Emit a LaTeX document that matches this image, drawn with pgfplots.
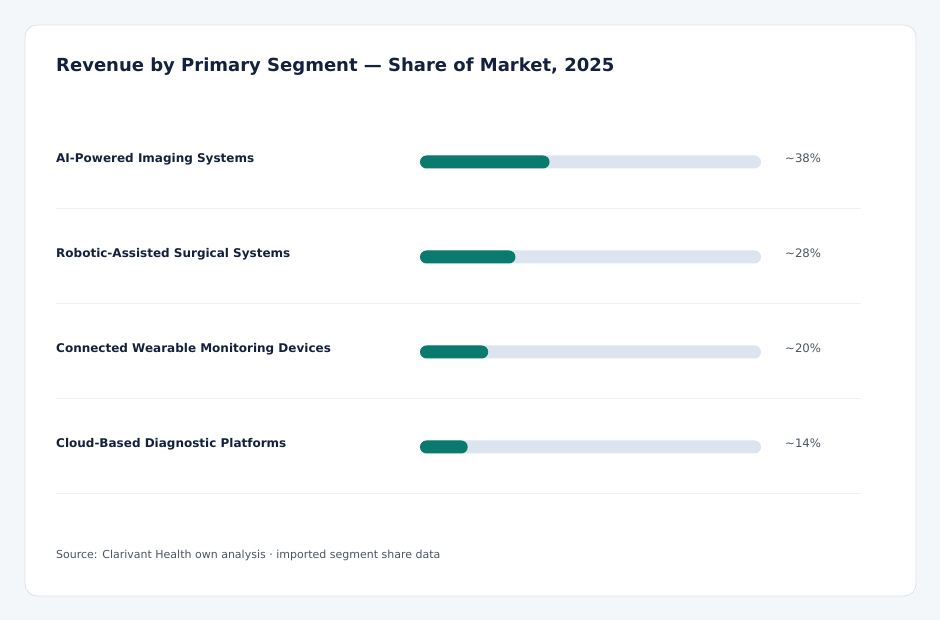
\documentclass[border=0pt]{standalone}
\usepackage{pgfplots}
\pgfplotsset{compat=1.18}
\usepackage{fontspec}
\setmainfont{DejaVu Sans}
\definecolor{pagebg}{HTML}{F4F7FA}
\definecolor{cardborder}{HTML}{DDE2E8}
\definecolor{titlec}{HTML}{13213D}
\definecolor{labelc}{HTML}{14213D}
\definecolor{valc}{HTML}{4B5563}
\definecolor{sepc}{HTML}{EEF1F5}
\definecolor{trackc}{HTML}{DBE4EF}
\definecolor{fillc}{HTML}{0B7A6E}
\begin{document}
\begin{tikzpicture}[x=1pt,y=1pt]
\fill[pagebg] (0,0) rectangle (940,620);
\draw[cardborder, fill=white, line width=0.8pt, rounded corners=12pt] (25,595) rectangle (916,24);
\node[anchor=base west, inner sep=0pt, font=\bfseries\fontsize{18}{20}\selectfont, text=titlec] at (56,548) {Revenue by Primary Segment — Share of Market, 2025};
\foreach \yy in {412,317,222,127} {\draw[sepc, line width=0.8pt] (56,\yy) -- (861,\yy);}
\foreach \lab/\val [count=\i from 0] in {AI-Powered Imaging Systems/38, Robotic-Assisted Surgical Systems/28, Connected Wearable Monitoring Devices/20, Cloud-Based Diagnostic Platforms/14} {
  \node[anchor=base west, inner sep=0pt, font=\bfseries\fontsize{12}{14}\selectfont, text=labelc] at (56,{457-95*\i}) {\lab};
  \node[anchor=base west, inner sep=0pt, font=\fontsize{11.7}{14}\selectfont, text=valc] at (785,{457-95*\i}) {\char`\~\val\%};
}
\node[anchor=base west, inner sep=0pt, font=\fontsize{11}{13}\selectfont, text=valc] at (56,61) {Source: Clarivant Health own analysis · imported segment share data};
\begin{axis}[
  at={(420pt,505.5pt)}, anchor=north west,
  scale only axis, width=341pt, height=380pt,
  hide axis, xmin=0, xmax=100, ymin=-0.5, ymax=3.5, y dir=reverse,
  xbar, bar width=13pt, bar shift=0pt,
]
\addplot[fill=trackc, draw=none, rounded corners=6.5pt] coordinates {(100,0) (100,1) (100,2) (100,3)};
\addplot[fill=fillc, draw=none, rounded corners=6.5pt] coordinates {(38,0) (28,1) (20,2) (14,3)};
\end{axis}
\end{tikzpicture}
\end{document}
